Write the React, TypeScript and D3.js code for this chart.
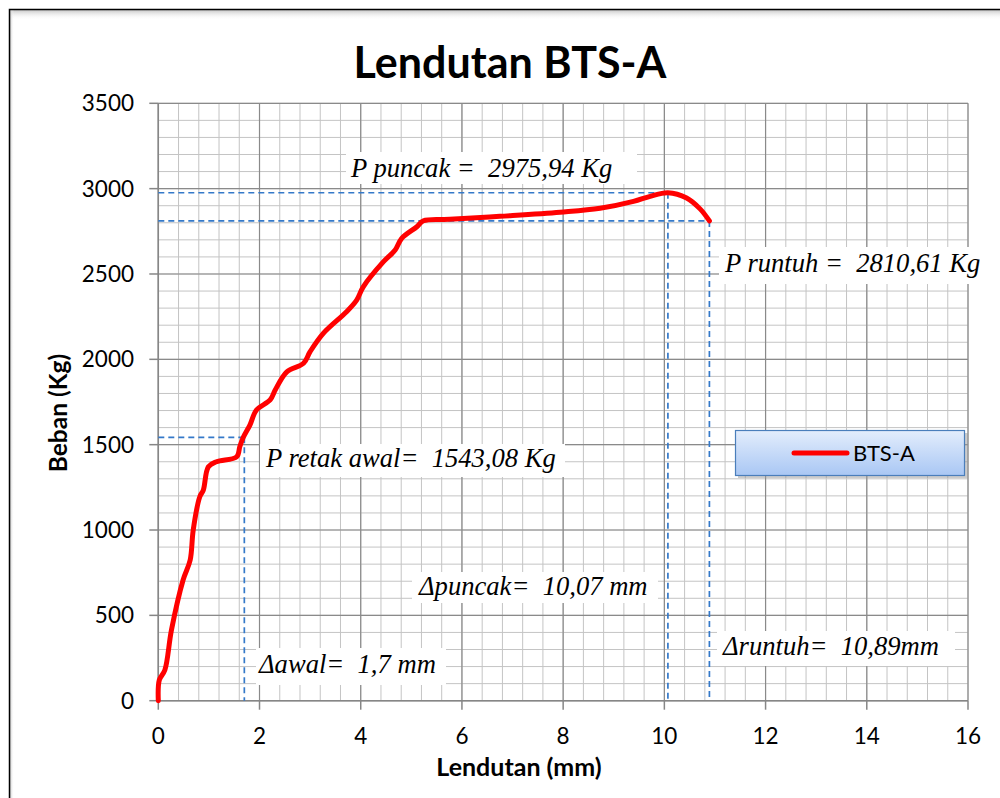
import React from "react";
import * as d3 from "d3";

// ---------- data ----------
const deflection = [0, 0.02, 0.13, 0.26, 0.49, 0.63, 0.69, 0.82, 0.89, 0.99, 1.15, 1.55, 1.61, 1.68, 1.81, 1.94, 2.21, 2.31, 2.54, 2.87, 3.0, 3.26, 3.72, 3.92, 4.05, 4.45, 4.68, 4.81, 5.11, 5.24, 5.76, 6.75, 7.94, 8.73, 9.39, 9.72, 10.07, 10.44, 10.71, 10.89];
const load = [0, 121, 180, 414, 707, 824, 1000, 1195, 1234, 1371, 1400, 1429, 1488, 1543, 1615, 1703, 1762, 1820, 1927, 1977, 2045, 2152, 2279, 2347, 2425, 2572, 2640, 2709, 2777, 2812, 2820, 2838, 2862, 2885, 2925, 2955, 2976, 2945, 2880, 2811];

const xTicks = [0, 2, 4, 6, 8, 10, 12, 14, 16];
const yTicks = [0, 500, 1000, 1500, 2000, 2500, 3000, 3500];

const seriesName = "BTS-A";
const chartTitle = "Lendutan BTS-A";
const xTitle = "Lendutan (mm)";
const yTitle = "Beban (Kg)";

// key points
const crackLoad = 1543.08;
const crackDefl = 1.7;
const peakLoad = 2975.94;
const peakDefl = 10.07;
const failLoad = 2810.61;
const failDefl = 10.89;

const fmt = (v: number, d: number) => v.toFixed(d).replace(".", ",");

const annotations = [
  { text: `P puncak =  ${fmt(peakLoad, 2)} Kg`, tx: 351, ty: 177, bx: 346, by: 152, bw: 291, bh: 32 },
  { text: `P runtuh =  ${fmt(failLoad, 2)} Kg`, tx: 725, ty: 272, bx: 719, by: 247, bw: 268, bh: 37 },
  { text: `P retak awal=  ${fmt(crackLoad, 2)} Kg`, tx: 266, ty: 467, bx: 260, by: 444, bw: 305, bh: 33 },
  { text: `\u0394puncak=  ${fmt(peakDefl, 2)} mm`, tx: 419, ty: 595, bx: 412, by: 572, bw: 246, bh: 31 },
  { text: `\u0394runtuh=  ${fmt(failDefl, 2)}mm`, tx: 723, ty: 655, bx: 717, by: 631, bw: 238, bh: 35 },
  { text: `\u0394awal=  ${fmt(crackDefl, 1)} mm`, tx: 259, ty: 673, bx: 256, by: 648, bw: 190, bh: 37 },
];

export default function App() {
  const x = d3.scaleLinear().domain([0, 16]).range([158.3, 968]);
  const y = d3.scaleLinear().domain([0, 3500]).range([700.7, 103.3]);

  const minorX = d3.range(0, 16.0001, 0.4);
  const minorY = d3.range(0, 3500.001, 100);

  const pts: [number, number][] = deflection.map((d, i) => [d, load[i]]);
  const line = d3
    .line<[number, number]>()
    .x((d) => x(d[0]))
    .y((d) => y(d[1]))
    .curve(d3.curveCatmullRom.alpha(0.5));

  const sans = "Lato, 'Open Sans', sans-serif";
  const serif = "'Liberation Serif', 'Times New Roman', serif";
  const dashColor = "#3479c9";

  return (
    <svg
      width={1000}
      height={798}
      style={{ position: "absolute", left: 0, top: 0, display: "block", background: "#fff" }}
    >
      <defs>
        <linearGradient id="legGrad" x1="0" y1="0" x2="0" y2="1">
          <stop offset="0" stopColor="#e3edfc" />
          <stop offset="1" stopColor="#a9c7f4" />
        </linearGradient>
        <linearGradient id="topShadow" x1="0" y1="0" x2="0" y2="1">
          <stop offset="0" stopColor="#c8c8c8" />
          <stop offset="1" stopColor="#ffffff" stopOpacity="0" />
        </linearGradient>
        <linearGradient id="leftShadow" x1="0" y1="0" x2="1" y2="0">
          <stop offset="0" stopColor="#c8c8c8" />
          <stop offset="1" stopColor="#ffffff" stopOpacity="0" />
        </linearGradient>
      </defs>

      {/* outer frame */}
      <rect x={10} y={10} width={1000} height={10} fill="url(#topShadow)" />
      <rect x={10} y={10} width={4} height={800} fill="url(#leftShadow)" />
      <rect x={9.5} y={9.5} width={1000} height={800} fill="none" stroke="#000" strokeWidth={1.5} />

      {/* minor grid */}
      <g stroke="#c4c4c4" strokeWidth={1}>
        {minorX.map((v, i) => (
          <line key={"mx" + i} x1={x(v)} x2={x(v)} y1={y(0)} y2={y(3500)} />
        ))}
        {minorY.map((v, i) => (
          <line key={"my" + i} x1={x(0)} x2={x(16)} y1={y(v)} y2={y(v)} />
        ))}
      </g>
      {/* major grid */}
      <g stroke="#8a8a8a" strokeWidth={1.2}>
        {xTicks.map((v) => (
          <line key={"Mx" + v} x1={x(v)} x2={x(v)} y1={y(0)} y2={y(3500)} />
        ))}
        {yTicks.map((v) => (
          <line key={"My" + v} x1={x(0)} x2={x(16)} y1={y(v)} y2={y(v)} />
        ))}
      </g>

      {/* axes */}
      <g stroke="#868686" strokeWidth={1.5}>
        <line x1={x(0)} x2={x(16)} y1={y(0)} y2={y(0)} />
        <line x1={x(0)} x2={x(0)} y1={y(0)} y2={y(3500)} />
        {xTicks.map((v) => (
          <line key={"tx" + v} x1={x(v)} x2={x(v)} y1={y(0)} y2={y(0) + 9} />
        ))}
        {yTicks.map((v) => (
          <line key={"ty" + v} x1={x(0) - 9} x2={x(0)} y1={y(v)} y2={y(v)} />
        ))}
      </g>

      {/* dashed reference lines */}
      <g stroke={dashColor} strokeWidth={1.7} strokeDasharray="6,4" fill="none">
        <line x1={x(0)} x2={x(peakDefl)} y1={y(peakLoad)} y2={y(peakLoad)} />
        <line x1={x(peakDefl)} x2={x(peakDefl)} y1={y(peakLoad)} y2={y(0)} />
        <line x1={x(0)} x2={x(failDefl)} y1={y(failLoad)} y2={y(failLoad)} />
        <line x1={x(failDefl)} x2={x(failDefl)} y1={y(failLoad)} y2={y(0)} />
        <line x1={x(0)} x2={x(crackDefl)} y1={y(crackLoad)} y2={y(crackLoad)} />
        <line x1={x(crackDefl)} x2={x(crackDefl)} y1={y(crackLoad)} y2={y(0)} />
      </g>

      {/* annotations */}
      {annotations.map((a, i) => (
        <g key={"an" + i}>
          <rect x={a.bx} y={a.by} width={a.bw} height={a.bh} fill="#fff" />
          <text
            x={a.tx}
            y={a.ty}
            fontFamily={serif}
            fontStyle="italic"
            fontSize={26.6}
            fill="#000"
            style={{ whiteSpace: "pre" }}
          >
            {a.text}
          </text>
        </g>
      ))}

      {/* series */}
      <path
        d={line(pts) || ""}
        fill="none"
        stroke="#ff0000"
        strokeWidth={5}
        strokeLinejoin="round"
        strokeLinecap="round"
      />

      {/* tick labels */}
      <g fontFamily={sans} fontSize={22.5} fill="#000">
        {xTicks.map((v) => (
          <text key={"lx" + v} x={x(v)} y={744} textAnchor="middle">
            {v}
          </text>
        ))}
        {yTicks.map((v) => (
          <text key={"ly" + v} x={134} y={y(v) + 8} textAnchor="end">
            {v}
          </text>
        ))}
      </g>

      {/* titles */}
      <text x={510} y={78} textAnchor="middle" fontFamily={sans} fontWeight="bold" fontSize={43}>
        {chartTitle}
      </text>
      <text x={519} y={776} textAnchor="middle" fontFamily={sans} fontWeight="bold" fontSize={25}>
        {xTitle}
      </text>
      <text
        transform={`translate(67,${413}) rotate(-90)`}
        textAnchor="middle"
        fontFamily={sans}
        fontWeight="bold"
        fontSize={24.5}
      >
        {yTitle}
      </text>

      {/* legend */}
      <g>
        <rect x={738} y={433} width={230} height={45} fill="#9a9a9a" opacity={0.5} />
        <rect x={735.5} y={430.5} width={229} height={45} fill="url(#legGrad)" stroke="#4a7ebb" strokeWidth={1.2} />
        <line x1={794} x2={847} y1={453} y2={453} stroke="#ff0000" strokeWidth={5} strokeLinecap="round" />
        <text x={853} y={461} fontFamily={sans} fontSize={22} fill="#000">
          {seriesName}
        </text>
      </g>
    </svg>
  );
}
